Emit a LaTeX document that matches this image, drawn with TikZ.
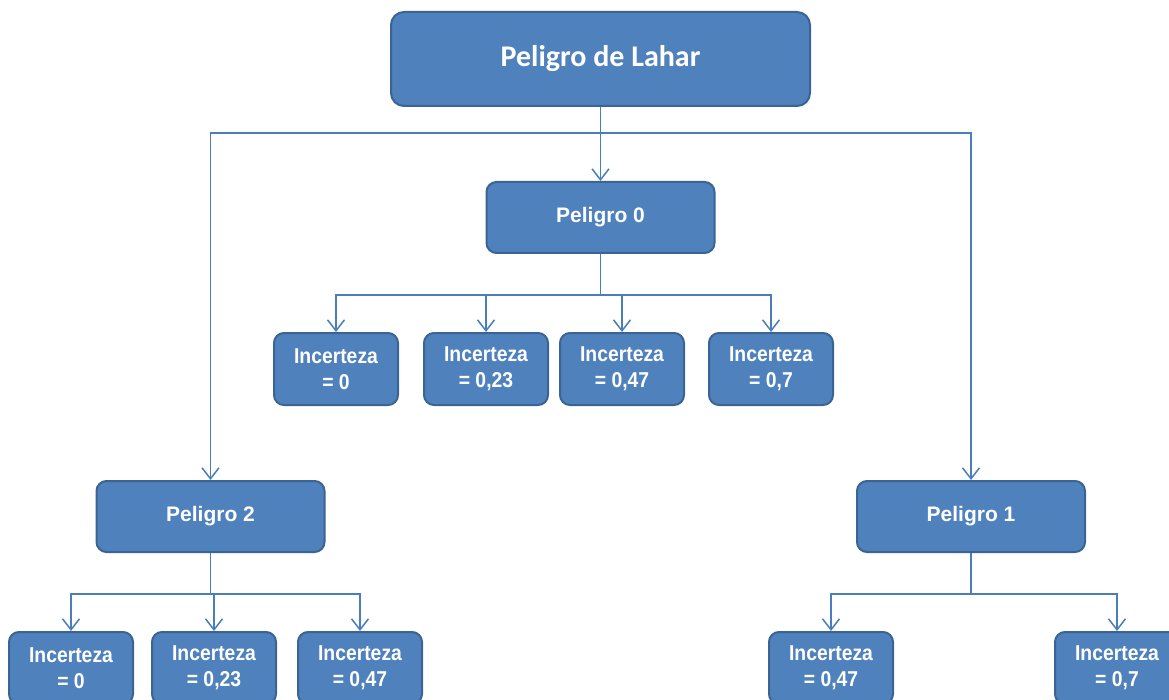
\documentclass[tikz,border=0pt]{standalone}
\usepackage{fontspec}
\setmainfont{Liberation Sans}
\newfontfamily\calfont{Carlito}
\newfontfamily\narrowfont[FakeStretch=0.9]{Liberation Sans}
\usetikzlibrary{arrows.meta}
\definecolor{boxfill}{HTML}{4F81BD}
\definecolor{boxline}{HTML}{3A6494}
\definecolor{conn}{HTML}{4A7EBB}
\tikzset{
  box/.style={draw=boxline, fill=boxfill, line width=2pt, rounded corners=10pt,
    text=white, font=\fontsize{21}{25}\selectfont\bfseries, align=center, inner sep=0pt},
  topbox/.style={box, rounded corners=13pt, font=\calfont\fontsize{30}{34}\selectfont\bfseries,
    minimum width=419pt, minimum height=94pt},
  midbox/.style={box, minimum width=228pt, minimum height=71pt},
  leafbox/.style={box, font=\narrowfont\fontsize{21.5}{26}\selectfont\bfseries,
    minimum width=124pt, minimum height=72pt},
  conline/.style={draw=conn, line width=1.6pt},
  arr/.style={conline, -{Straight Barb[length=11pt,width=17pt,line width=1.5pt]}}
}
\begin{document}
\begin{tikzpicture}[x=1pt,y=-1pt]
\useasboundingbox (0,0) rectangle (1169,700);
\node[topbox] (top) at (600.5,59) {Peligro de Lahar};
\node[midbox] (p0) at (600.5,217.5) {Peligro 0};
\node[midbox] (p2) at (210.5,516.5) {Peligro 2};
\node[midbox] (p1) at (971,516.5) {Peligro 1};
% row 1
\node[leafbox] (a1) at (336,369) {Incerteza\\= 0};
\node[leafbox] (a2) at (486,369) {Incerteza\\= 0,23};
\node[leafbox] (a3) at (622,369) {Incerteza\\= 0,47};
\node[leafbox] (a4) at (771,369) {Incerteza\\= 0,7};
% bottom left
\node[leafbox] (b1) at (71,668) {Incerteza\\= 0};
\node[leafbox] (b2) at (214,668) {Incerteza\\= 0,23};
\node[leafbox] (b3) at (360,668) {Incerteza\\= 0,47};
% bottom right
\node[leafbox] (c1) at (831,668) {Incerteza\\= 0,47};
\node[leafbox] (c2) at (1117,668) {Incerteza\\= 0,7};
% connectors from top
\coordinate (jt) at (600.5,133);
\draw[arr] (top.south) -- (p0.north);
\draw[arr] (jt) -| (p2.north);
\draw[arr] (jt) -| (p1.north);
% from Peligro 0
\coordinate (j0) at (600.5,295);
\draw[conline] (p0.south) -- (j0);
\foreach \n in {a1,a2,a3,a4} \draw[arr] (j0) -| (\n.north);
% from Peligro 2
\coordinate (j2) at (210.5,594);
\draw[conline] (p2.south) -- (j2);
\foreach \n in {b1,b2,b3} \draw[arr] (j2) -| (\n.north);
% from Peligro 1
\coordinate (j1) at (971,594);
\draw[conline] (p1.south) -- (j1);
\foreach \n in {c1,c2} \draw[arr] (j1) -| (\n.north);
\end{tikzpicture}
\end{document}
